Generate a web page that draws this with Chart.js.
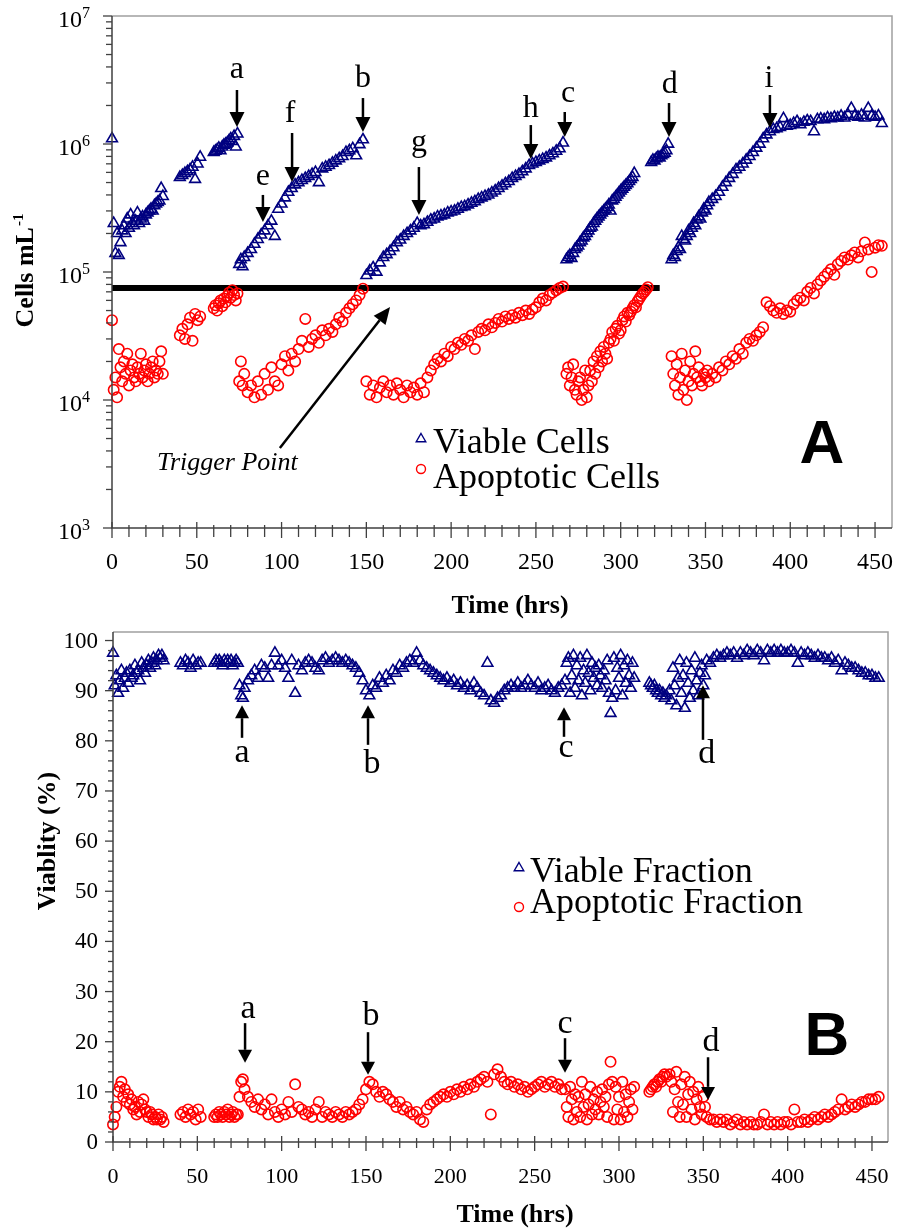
<!DOCTYPE html>
<html>
<head>
<meta charset="utf-8">
<script src="https://cdn.jsdelivr.net/npm/chart.js@4.4.0/dist/chart.umd.min.js"></script>
<style>
  body { margin: 0; background: #fff; }
  #wrapA { position: absolute; left: 0; top: 0; }
  #wrapB { position: absolute; left: 0; top: 620px; }
</style>
</head>
<body>
<div id="wrapA"><canvas id="chartA" width="900" height="620"></canvas></div>
<div id="wrapB"><canvas id="chartB" width="900" height="610"></canvas></div>
<script>
// sampling times (hrs), one entry per reading, grouped by culture run
var hours = [
  // run 1
  0, 1, 2, 3, 4, 5, 6, 7, 8, 9, 10, 11, 12, 13, 14, 15, 16, 17, 18, 19, 20, 21, 22, 23, 24, 25, 26, 27, 28, 29, 30,
  // run 2
  40, 41.5, 43, 44.5, 46, 47.5, 49, 50.5, 52,
  // run 3
  60, 61, 62, 63, 64, 65, 66, 67, 68, 69, 70, 71, 72, 73, 74,
  // run 4
  75, 76, 77, 78, 80, 82, 84, 86, 88, 90, 92, 94, 96, 98, 100, 102, 104, 106, 108, 110,
  112, 114, 116, 118, 120, 122, 124, 126, 128, 130, 132, 134, 136, 138, 140, 142, 144, 146, 148,
  // run 5
  150, 152, 154, 156, 158, 160, 162, 164, 166, 168, 170, 172, 174, 176, 178, 180, 182, 184, 186, 188,
  190, 192, 194, 196, 198, 200, 202, 204, 206, 208, 210, 212, 214, 216, 218, 220, 222, 224, 226, 228,
  230, 232, 234, 236, 238, 240, 242, 244, 246, 248, 250, 252, 254, 256, 258, 260, 262, 264, 266,
  // run 6
  268, 269, 270, 271, 272, 273, 274, 275, 276, 277, 278, 279, 280, 281, 282, 283, 284, 285, 286, 287,
  288, 289, 290, 291, 292, 293, 294, 295, 296, 297, 298, 299, 300, 301, 302, 303, 304, 305, 306, 307,
  308, 309, 310, 311, 312, 313, 314, 315, 316,
  // run 7
  318, 319, 320, 321, 322, 323, 324, 325, 326, 327, 328,
  // run 8
  330, 331, 332, 333, 334, 335, 336, 337, 338, 339, 340, 341, 342, 343, 344, 345, 346, 347, 348, 349,
  350, 351, 352,
  354, 356, 358, 360, 362, 364, 366, 368, 370, 372, 374, 376, 378, 380, 382, 384, 386, 388, 390, 392,
  394, 396, 398, 400, 402, 404, 406, 408, 410, 412, 414, 416, 418, 420, 422, 424, 426, 428, 430, 432,
  434, 436, 438, 440, 442, 444, 446, 448, 450, 452, 454
];

// panel A: viable cells per mL
var viableCells = [
  1.1e6, 2.4e5, 1.4e5, 2.0e5, 1.35e5, 1.7e5, 2.1e5, 2.3e5, 2.0e5, 2.6e5, 2.2e5, 2.8e5, 2.4e5, 2.3e5, 2.5e5, 2.9e5,
  2.4e5, 2.6e5, 2.7e5, 2.5e5, 2.8e5, 2.9e5, 3.0e5, 3.1e5, 3.0e5, 3.3e5, 3.4e5, 3.5e5, 3.6e5, 4.5e5, 3.9e5,
  5.5e5, 5.7e5, 5.9e5, 6.1e5, 6.3e5, 6.6e5, 5.3e5, 7.0e5, 7.9e5,
  8.6e5, 8.8e5, 9.0e5, 9.3e5, 8.9e5, 9.5e5, 9.8e5, 1.0e6, 1.02e6, 1.06e6, 1.1e6, 1.05e6, 1.15e6, 9.5e5, 1.2e6,
  1.15e5, 1.25e5, 1.1e5, 1.3e5, 1.4e5, 1.5e5, 1.65e5, 1.8e5, 1.95e5, 2.1e5, 2.3e5, 2.5e5, 1.9e5, 3.1e5, 3.4e5,
  3.8e5, 4.2e5, 4.5e5, 4.8e5, 5.0e5, 5.2e5, 5.4e5, 5.6e5, 5.8e5, 6.0e5, 5.0e5, 6.4e5, 6.6e5, 6.8e5, 7.1e5,
  7.4e5, 7.7e5, 8.0e5, 8.6e5, 8.9e5, 9.2e5, 8.1e5, 9.9e5, 1.08e6,
  9.4e4, 1.02e5, 1.08e5, 1.0e5, 1.18e5, 1.3e5, 1.37e5, 1.45e5, 1.55e5, 1.7e5, 1.78e5, 1.9e5, 2.0e5, 2.1e5, 2.2e5,
  2.4e5, 2.3e5, 2.35e5, 2.45e5, 2.55e5, 2.6e5, 2.7e5, 2.75e5, 2.8e5, 2.9e5, 2.95e5, 3.0e5, 3.1e5, 3.2e5, 3.25e5,
  3.35e5, 3.45e5, 3.55e5, 3.7e5, 3.8e5, 3.9e5, 4.0e5, 4.15e5, 4.3e5, 4.5e5, 4.7e5, 4.9e5, 5.1e5, 5.4e5, 5.6e5,
  5.8e5, 6.1e5, 6.4e5, 6.8e5, 7.0e5, 7.2e5, 7.4e5, 7.6e5, 7.8e5, 8.1e5, 8.4e5, 8.8e5, 9.2e5, 1.02e6,
  1.25e5, 1.3e5, 1.35e5, 1.28e5, 1.4e5, 1.5e5, 1.55e5, 1.6e5, 1.7e5, 1.75e5, 1.85e5, 1.9e5, 2.0e5, 2.1e5, 2.2e5,
  2.25e5, 2.4e5, 2.5e5, 2.6e5, 2.7e5, 2.8e5, 2.9e5, 3.0e5, 3.1e5, 3.2e5, 3.35e5, 3.0e5, 3.6e5, 3.7e5, 3.85e5,
  4.0e5, 4.15e5, 4.3e5, 4.45e5, 4.6e5, 4.75e5, 4.9e5, 5.1e5, 5.3e5, 5.5e5, 5.9e5,
  null, null, null, null, null, null, null, null,
  7.2e5, 7.5e5, 7.4e5, 7.7e5, 7.9e5, 7.8e5, 8.1e5, 8.3e5, 8.5e5, 8.9e5, 1.0e6,
  1.25e5, 1.35e5, 1.3e5, 1.45e5, 1.55e5, 1.5e5, 1.9e5, 1.8e5, 1.75e5, 1.9e5, 2.1e5, 2.0e5, 2.2e5, 2.4e5, 2.3e5,
  2.55e5, 2.7e5, 2.6e5, 2.9e5, 3.1e5, 3.0e5, 3.3e5, 3.5e5,
  3.7e5, 3.9e5, 4.2e5, 4.6e5, 5.0e5, 5.4e5, 5.8e5, 6.3e5, 6.6e5, 7.0e5,
  7.5e5, 8.0e5, 8.6e5, 9.3e5, 1.0e6, 1.1e6, 1.18e6, 1.25e6, 1.3e6, 1.32e6,
  1.35e6, 1.58e6, 1.38e6, 1.4e6, 1.45e6, 1.5e6, 1.42e6, 1.48e6, 1.52e6, 1.5e6,
  1.25e6, 1.55e6, 1.57e6, 1.55e6, 1.6e6, 1.58e6, 1.62e6, 1.6e6, 1.65e6, 1.6e6,
  1.7e6, 1.9e6, 1.65e6, 1.62e6, 1.68e6, 1.6e6, 1.9e6, 1.65e6, 1.62e6, 1.66e6,
  1.45e6
];

// panel A: apoptotic cells per mL
var apoptoticCells = [
  4.2e4, 1.2e4, 1.5e4, 1.05e4, 2.5e4, 1.8e4, 1.4e4, 2.0e4, 1.6e4, 2.3e4, 1.3e4, 1.7e4, 1.9e4, 1.5e4, 1.4e4, 1.8e4,
  1.6e4, 2.3e4, 1.5e4, 1.7e4, 1.9e4, 1.4e4, 1.6e4, 1.8e4, 2.0e4, 1.5e4, 1.7e4, 1.6e4, 2.0e4, 2.4e4, 1.6e4,
  3.2e4, 3.6e4, 3.0e4, 3.9e4, 4.4e4, 2.9e4, 4.7e4, 4.2e4, 4.5e4,
  5.2e4, 5.5e4, 5.0e4, 5.7e4, 6.0e4, 5.4e4, 6.2e4, 5.8e4, 6.5e4, 6.9e4, 6.3e4, 7.2e4, 6.6e4, 6.0e4, 6.8e4,
  1.4e4, 2.0e4, 1.3e4, 1.6e4, 1.15e4, 1.3e4, 1.05e4, 1.4e4, 1.1e4, 1.6e4, 1.2e4, 1.8e4, 1.4e4, 1.3e4, 1.9e4,
  2.2e4, 1.7e4, 2.3e4, 2.0e4, 2.5e4, 2.9e4, 4.3e4, 2.6e4, 3.0e4, 3.2e4, 2.8e4, 3.5e4, 3.2e4, 3.6e4, 3.4e4,
  3.9e4, 4.4e4, 4.1e4, 4.8e4, 5.2e4, 5.6e4, 6.0e4, 6.6e4, 7.4e4,
  1.4e4, 1.1e4, 1.3e4, 1.05e4, 1.25e4, 1.4e4, 1.15e4, 1.3e4, 1.1e4, 1.35e4, 1.2e4, 1.05e4, 1.3e4, 1.15e4, 1.25e4,
  1.1e4, 1.35e4, 1.15e4, 1.5e4, 1.7e4, 1.9e4, 2.1e4, 2.0e4, 2.3e4, 2.2e4, 2.6e4, 2.5e4, 2.8e4, 2.7e4, 3.0e4,
  2.9e4, 3.2e4, 2.5e4, 3.4e4, 3.6e4, 3.5e4, 3.9e4, 3.7e4, 4.0e4, 4.3e4, 4.1e4, 4.5e4, 4.3e4, 4.6e4, 4.4e4,
  4.8e4, 4.6e4, 5.0e4, 4.7e4, 5.1e4, 5.3e4, 5.8e4, 6.2e4, 6.0e4, 6.6e4, 6.9e4, 7.2e4, 7.5e4, 7.7e4,
  1.6e4, 1.8e4, 1.3e4, 1.5e4, 1.9e4, 1.2e4, 1.1e4, 1.4e4, 1.5e4, 1.0e4, 1.2e4, 1.7e4, 1.05e4, 1.3e4, 1.7e4,
  1.4e4, 2.0e4, 1.6e4, 2.2e4, 1.8e4, 2.4e4, 2.0e4, 2.6e4, 2.3e4, 2.1e4, 2.8e4, 3.0e4, 3.4e4, 2.9e4, 3.6e4,
  3.8e4, 3.3e4, 3.5e4, 4.2e4, 4.5e4, 4.1e4, 4.8e4, 4.6e4, 4.9e4, 5.2e4, 5.5e4, 5.3e4, 5.9e4, 6.2e4, 6.5e4,
  6.8e4, 7.0e4, 7.3e4, 7.6e4,
  null, null, null, null, null, null, null, null, null, null, null,
  2.2e4, 1.6e4, 1.3e4, 1.9e4, 1.1e4, 1.5e4, 2.3e4, 1.2e4, 1.7e4, 1.0e4, 1.4e4, 2.0e4, 1.3e4, 1.6e4, 2.4e4,
  1.5e4, 1.8e4, 1.4e4, 1.3e4, 1.6e4, 1.5e4, 1.7e4, 1.4e4,
  1.6e4, 1.5e4, 1.8e4, 1.7e4, 2.0e4, 1.9e4, 2.2e4, 2.1e4, 2.5e4, 2.3e4,
  2.8e4, 3.0e4, 2.9e4, 3.2e4, 3.4e4, 3.7e4, 5.8e4, 5.4e4, 5.0e4, 4.8e4,
  5.2e4, 4.7e4, 5.0e4, 4.9e4, 5.6e4, 6.0e4, 6.3e4, 6.0e4, 7.0e4, 7.5e4,
  6.8e4, 8.0e4, 8.6e4, 9.2e4, 9.8e4, 1.05e5, 9.5e4, 1.15e5, 1.22e5, 1.3e5,
  1.25e5, 1.35e5, 1.42e5, 1.3e5, 1.45e5, 1.7e5, 1.5e5, 1.0e5, 1.55e5, 1.62e5,
  1.6e5
];

// panel B: viable fraction (%)
var viableFraction = [
  97.5, 91, 93, 89.5, 92, 94, 90.5, 92.5, 93.5, 91.5, 94, 92.5, 93, 95, 93.5, 94,
  92, 95.5, 94.5, 93.5, 95, 96, 94.5, 95.5, 96.5, 95, 96, 97, 96.5, 97, 96,
  95.5, 95, 96, 95.5, 94.5, 96, 95, 95.5, 95.5,
  95.5, 96, 95.5, 96, 95.5, 95, 96, 95.5, 96, 95.5, 96, 95, 95.5, 96, 95.5,
  91, 89, 88.5, 90.5, 92, 93, 94, 92.5, 95, 94.5, 92.5, 95, 97.5, 95, 96,
  94.5, 92.5, 96, 89.5, 95, 94, 95.5, 96, 95.5, 94.5, 94, 96, 96.5, 95.5, 96,
  96.5, 96, 95.5, 96, 95.5, 95, 94.5, 93.5, 92,
  90, 89, 91, 90.5, 92.5, 91.5, 93, 92, 94, 93.5, 95, 94.5, 95.5, 96, 95.5,
  97.5, 96, 95, 94.5, 94, 93.5, 93, 92.5, 92, 92.5, 91.5, 92, 91, 91.5, 90.5,
  91, 90, 91.5, 90.5, 89.5, 89, 95.5, 88, 87.5, 88.5, 89, 90, 90.5, 91, 90.5,
  91.5, 90.5, 91, 92, 91, 90.5, 91.5, 90, 90.5, 91, 90, 89.5, 90.5, 91,
  92, 95.5, 96.5, 89.5, 93, 97, 90.5, 95, 92, 96.5, 89, 94, 91.5, 97, 93.5,
  90, 95.5, 92.5, 94.5, 91, 95, 93, 90.5, 94, 92, 96, 89.5, 85.5, 88.5, 96.5,
  90, 94.5, 92.5, 97, 89, 95, 91.5, 96, 93, 90.5, 95.5, 92.5,
  null, null, null, null, null, null, null,
  91.5, 91, 90.5, 91, 90, 89.5, 90, 89, 89.5, 88.5, 89,
  90, 88, 94.5, 91, 87, 92.5, 96, 89.5, 93, 86.5, 95.5, 91.5, 88.5, 94, 90,
  96.5, 92, 89, 93.5, 95, 91, 93, 96,
  95.5, 96.5, 97, 96.5, 97, 97.5, 97, 97.5, 96.5, 97.5,
  97, 98, 97.5, 97, 98, 97.5, 96, 98, 97.5, 98,
  97.5, 98, 97.5, 97.5, 98, 97.5, 95.5, 97.5, 97, 97.5,
  97, 96.5, 97, 96.5, 96.5, 96, 96.5, 95.5, 96, 94,
  95.5, 95, 94.5, 94.5, 94, 93.5, 93.5, 93, 93, 92.5,
  92.5
];

// panel B: apoptotic fraction (%)
var apoptoticFraction = [
  3.5, 5, 7, 10, 11, 12, 9, 10.5, 8, 9.5, 7.5, 8.5, 6.5, 7, 5.5, 8,
  6, 7.5, 8.5, 6.5, 6, 5, 6, 5.5, 4.5, 5, 4.5, 5.5, 4.5, 5, 4,
  5.5, 6, 5, 6.5, 5.5, 6, 4.5, 6.5, 5,
  5, 5.5, 5, 6, 5.5, 5, 6, 5.5, 6.5, 5, 5.5, 6, 5, 5.5, 5.5,
  9, 12, 12.5, 10.5, 9, 8, 7, 8.5, 6.5, 7.5, 5.5, 8.5, 6, 5, 6.5,
  5.5, 8, 6, 11.5, 7, 6.5, 5.5, 6, 5, 6.5, 8, 5, 6, 5.5, 5,
  6, 5.5, 5, 6, 5.5, 6, 6.5, 7.5, 8.5,
  10.5, 12, 11.5, 10, 9, 10, 9.5, 8.5, 8, 7, 8, 6.5, 7, 6, 5.5,
  6, 4.5, 4, 6.5, 7.5, 8, 8.5, 9, 9.5, 9, 10, 9.5, 10.5, 10, 11,
  10.5, 11.5, 11, 12, 12.5, 13, 12, 5.5, 13.5, 14.5, 13, 12, 11.5, 12, 11,
  11.5, 10.5, 11, 10, 10.5, 11, 11.5, 12, 11, 11.5, 12, 11, 11.5, 10.5,
  10.5, 7, 5, 11, 8.5, 4.5, 9.5, 6, 9, 5, 12, 7, 9.5, 4.5, 7.5,
  11, 5.5, 8.5, 6.5, 10, 5.5, 8, 10.5, 7, 9, 5, 11.5, 16, 12, 4.5,
  11, 6.5, 9, 4.5, 12, 6, 9.5, 5, 8, 10.5, 6.5, 11,
  null, null, null, null, null, null, null,
  10, 10.5, 11, 11.5, 11, 12, 12.5, 12, 13, 13.5, 13,
  13.5, 12, 6, 10.5, 14, 8, 5, 11.5, 7.5, 13, 5, 9.5, 12, 6.5, 10,
  4.5, 8.5, 11, 7, 5.5, 9, 7, 5,
  4.5, 4.5, 4, 4.5, 4, 4.5, 3.5, 4, 4.5, 3.5,
  4, 3.5, 4, 3.5, 3.5, 4, 5.5, 3.5, 4, 3.5,
  4, 3.5, 4, 4, 3.5, 6.5, 4, 4, 4.5, 4,
  4.5, 5, 4.5, 5, 5.5, 5, 5.5, 6, 6.5, 8.5,
  6.5, 7, 7.5, 7, 7.5, 8, 8, 8.5, 8.5, 8.5,
  9
];

// axis ticks
var hourTicks = [0, 50, 100, 150, 200, 250, 300, 350, 400, 450];
var cellTicks = [1e3, 1e4, 1e5, 1e6, 1e7];
var cellTickExp = ['3', '4', '5', '6', '7'];
var pctTicks = [0, 10, 20, 30, 40, 50, 60, 70, 80, 90, 100];

// trigger level (cells/mL) and the hour where the bar stops
var triggerLevel = 7.5e4;
var triggerEnd = 323;

// panel A arrows: letter, arrow hour, log10 label baseline, log10 tail, log10 tip, label hour
var arrowsA = [
  ['a', 73.7, 6.516, 6.422, 6.133, 73.7],
  ['b', 148, 6.445, 6.359, 6.094, 148],
  ['e', 89, 5.680, 5.602, 5.391, 89],
  ['f', 106.2, 6.172, 6.086, 5.703, 105],
  ['g', 181, 5.945, 5.820, 5.445, 181],
  ['h', 247, 6.211, 6.148, 5.883, 247],
  ['c', 267, 6.328, 6.250, 6.055, 269],
  ['d', 328.5, 6.398, 6.320, 6.055, 329],
  ['i', 388, 6.445, 6.383, 6.125, 387.5]
];

// panel B arrows: letter, arrow hour, label baseline, tail, tip (percent), label hour
var arrowsB = [
  ['a', 76.5, 75.8, 80.6, 87.1, 76.5],
  ['b', 151.2, 73.6, 79.2, 87.1, 153.5],
  ['c', 267.4, 76.8, 80.8, 86.7, 268.6],
  ['d', 349.8, 75.6, 80.2, 91.1, 352],
  ['a', 78.3, 24.7, 23.7, 15.8, 80],
  ['b', 151.2, 23.3, 21.9, 13.4, 153],
  ['c', 268, 21.7, 20.7, 13.8, 268],
  ['d', 352.8, 18.1, 16.9, 8.4, 354.5]
];

var serif = '"Liberation Serif", "Times New Roman", serif';
var sans = '"Liberation Sans", Arial, sans-serif';
var axisColor = '#404040';
var navy = '#000080';
var red = '#ff0000';

function toPoints(vals) {
  var pts = [];
  for (var i = 0; i < hours.length; i++) {
    if (vals[i] !== null) pts.push({ x: hours[i], y: vals[i] });
  }
  return pts;
}

function line(ctx, x1, y1, x2, y2) {
  ctx.beginPath();
  ctx.moveTo(x1, y1);
  ctx.lineTo(x2, y2);
  ctx.stroke();
}

function drawArrow(ctx, x1, y1, x2, y2, lw, headLen, headHalf) {
  var ang = Math.atan2(y2 - y1, x2 - x1);
  var bx = x2 - headLen * Math.cos(ang), by = y2 - headLen * Math.sin(ang);
  ctx.save();
  ctx.strokeStyle = '#000';
  ctx.fillStyle = '#000';
  ctx.lineWidth = lw;
  line(ctx, x1, y1, bx, by);
  ctx.beginPath();
  ctx.moveTo(x2, y2);
  ctx.lineTo(bx + headHalf * Math.sin(ang), by - headHalf * Math.cos(ang));
  ctx.lineTo(bx - headHalf * Math.sin(ang), by + headHalf * Math.cos(ang));
  ctx.closePath();
  ctx.fill();
  ctx.restore();
}

function triangle(ctx, x, y, r) {
  ctx.beginPath();
  ctx.moveTo(x, y - r);
  ctx.lineTo(x + r * 0.866, y + r * 0.5);
  ctx.lineTo(x - r * 0.866, y + r * 0.5);
  ctx.closePath();
  ctx.stroke();
}

function drawFrame(ctx, a) {
  ctx.save();
  ctx.lineWidth = 1.5;
  ctx.strokeStyle = '#a0a0a0';
  ctx.beginPath();
  ctx.moveTo(a.left, a.top);
  ctx.lineTo(a.right, a.top);
  ctx.lineTo(a.right, a.bottom);
  ctx.stroke();
  ctx.strokeStyle = axisColor;
  ctx.beginPath();
  ctx.moveTo(a.left, a.top);
  ctx.lineTo(a.left, a.bottom);
  ctx.lineTo(a.right, a.bottom);
  ctx.stroke();
  ctx.restore();
}

// hour axis: crossing tick marks every 10 h, labels at the 50 h ticks
function drawHourAxis(ctx, xs, base, majUp, majDown, minUp, minDown, font, labelY) {
  ctx.save();
  ctx.strokeStyle = axisColor;
  ctx.lineWidth = 1.3;
  for (var v = 0; v <= hourTicks[hourTicks.length - 1]; v += 10) {
    var px = xs.getPixelForValue(v);
    if (hourTicks.indexOf(v) >= 0) line(ctx, px, base - majUp, px, base + majDown);
    else line(ctx, px, base - minUp, px, base + minDown);
  }
  ctx.fillStyle = '#000';
  ctx.font = font;
  ctx.textAlign = 'center';
  ctx.textBaseline = 'alphabetic';
  hourTicks.forEach(function (v) {
    ctx.fillText(String(v), xs.getPixelForValue(v), labelY);
  });
  ctx.restore();
}

var panelA = {
  id: 'panelA',
  beforeDatasetsDraw: function (chart) {
    var ctx = chart.ctx, xs = chart.scales.x, ys = chart.scales.y;
    var y = ys.getPixelForValue(triggerLevel);
    ctx.save();
    ctx.fillStyle = '#000';
    ctx.fillRect(xs.getPixelForValue(0), y - 3, xs.getPixelForValue(triggerEnd) - xs.getPixelForValue(0), 6);
    ctx.restore();
  },
  afterDatasetsDraw: function (chart) {
    var ctx = chart.ctx, a = chart.chartArea, xs = chart.scales.x, ys = chart.scales.y;
    drawFrame(ctx, a);
    drawHourAxis(ctx, xs, a.bottom, 6, 10, 3, 9, '24px ' + serif, 569);

    // log axis ticks and labels
    ctx.save();
    ctx.strokeStyle = axisColor;
    ctx.lineWidth = 1.3;
    ctx.fillStyle = '#000';
    for (var d = 0; d < cellTicks.length; d++) {
      var py = ys.getPixelForValue(cellTicks[d]);
      line(ctx, a.left - 9, py, a.left, py);
      if (d < cellTicks.length - 1) {
        for (var m = 2; m <= 9; m++) {
          var pm = ys.getPixelForValue(cellTicks[d] * m);
          line(ctx, a.left - 6, pm, a.left, pm);
        }
      }
      ctx.font = '24px ' + serif;
      ctx.textAlign = 'right';
      ctx.fillText('10', 82, py + 11);
      ctx.font = '16px ' + serif;
      ctx.textAlign = 'left';
      ctx.fillText(cellTickExp[d], 82, py + 2);
    }
    ctx.restore();

    // axis titles
    ctx.save();
    ctx.fillStyle = '#000';
    ctx.font = 'bold 26px ' + serif;
    ctx.textAlign = 'center';
    ctx.fillText('Time (hrs)', 510, 613);
    ctx.translate(33, 271);
    ctx.rotate(-Math.PI / 2);
    var w1 = ctx.measureText('Cells mL').width;
    ctx.font = 'bold 15px ' + serif;
    var w2 = ctx.measureText('-1').width;
    ctx.textAlign = 'left';
    ctx.font = 'bold 26px ' + serif;
    ctx.fillText('Cells mL', -(w1 + w2) / 2, 0);
    ctx.font = 'bold 15px ' + serif;
    ctx.fillText('-1', -(w1 + w2) / 2 + w1 + 1, -10);
    ctx.restore();

    // event arrows
    ctx.save();
    ctx.fillStyle = '#000';
    ctx.font = '32px ' + serif;
    ctx.textAlign = 'center';
    arrowsA.forEach(function (r) {
      var x = xs.getPixelForValue(r[1]);
      drawArrow(ctx, x, ys.getPixelForValue(Math.pow(10, r[3])), x, ys.getPixelForValue(Math.pow(10, r[4])), 2.5, 15, 7.5);
      ctx.fillText(r[0], xs.getPixelForValue(r[5]), ys.getPixelForValue(Math.pow(10, r[2])));
    });

    // trigger point arrow and note
    drawArrow(ctx, xs.getPixelForValue(99), ys.getPixelForValue(Math.pow(10, 3.625)),
      xs.getPixelForValue(164), ys.getPixelForValue(Math.pow(10, 4.727)), 2.5, 17, 7.5);
    ctx.font = 'italic 26px ' + serif;
    ctx.textAlign = 'left';
    ctx.fillText('Trigger Point', xs.getPixelForValue(26.5), ys.getPixelForValue(Math.pow(10, 3.453)));

    // legend
    ctx.lineWidth = 1.4;
    ctx.strokeStyle = navy;
    triangle(ctx, 421, 439, 5.5);
    ctx.strokeStyle = red;
    ctx.beginPath();
    ctx.arc(421, 469, 4.5, 0, Math.PI * 2);
    ctx.stroke();
    ctx.fillStyle = '#000';
    ctx.font = '36px ' + serif;
    ctx.fillText('Viable Cells', 433, 453);
    ctx.fillText('Apoptotic Cells', 433, 488);

    ctx.font = 'bold 62px ' + sans;
    ctx.textAlign = 'center';
    ctx.fillText('A', 822, 463);
    ctx.restore();
  }
};

var panelB = {
  id: 'panelB',
  afterDatasetsDraw: function (chart) {
    var ctx = chart.ctx, a = chart.chartArea, xs = chart.scales.x, ys = chart.scales.y;
    drawFrame(ctx, a);
    drawHourAxis(ctx, xs, a.bottom, 6, 9, 4, 6, '22px ' + serif, 563);

    ctx.save();
    ctx.strokeStyle = axisColor;
    ctx.lineWidth = 1.3;
    for (var v = 0; v <= 100; v += 2) {
      var py = ys.getPixelForValue(v);
      if (pctTicks.indexOf(v) >= 0) line(ctx, a.left - 8, py, a.left, py);
      else line(ctx, a.left - 5, py, a.left, py);
    }
    ctx.fillStyle = '#000';
    ctx.font = '23px ' + serif;
    ctx.textAlign = 'right';
    ctx.textBaseline = 'middle';
    pctTicks.forEach(function (t) {
      ctx.fillText(String(t), 98, ys.getPixelForValue(t) + 1);
    });
    ctx.restore();

    ctx.save();
    ctx.fillStyle = '#000';
    ctx.font = 'bold 26px ' + serif;
    ctx.textAlign = 'center';
    ctx.textBaseline = 'middle';
    ctx.fillText('Time (hrs)', 515, 595);
    ctx.translate(48, 221);
    ctx.rotate(-Math.PI / 2);
    ctx.fillText('Viablity (%)', 0, 0);
    ctx.restore();

    ctx.save();
    ctx.fillStyle = '#000';
    ctx.font = '34px ' + serif;
    ctx.textAlign = 'center';
    arrowsB.forEach(function (r) {
      var x = xs.getPixelForValue(r[1]);
      drawArrow(ctx, x, ys.getPixelForValue(r[3]), x, ys.getPixelForValue(r[4]), 2.5, 13, 7);
      ctx.fillText(r[0], xs.getPixelForValue(r[5]), ys.getPixelForValue(r[2]));
    });

    ctx.lineWidth = 1.4;
    ctx.strokeStyle = navy;
    triangle(ctx, 519, 248, 5.5);
    ctx.strokeStyle = red;
    ctx.beginPath();
    ctx.arc(519, 287, 4.5, 0, Math.PI * 2);
    ctx.stroke();
    ctx.font = '36px ' + serif;
    ctx.textAlign = 'left';
    ctx.fillText('Viable Fraction', 530, 262);
    ctx.fillText('Apoptotic Fraction', 530, 293);

    ctx.font = 'bold 62px ' + sans;
    ctx.textAlign = 'center';
    ctx.fillText('B', 827, 435);
    ctx.restore();
  }
};

function markerSet(label, pts, style, color, r) {
  return {
    label: label,
    data: pts,
    showLine: false,
    clip: false,
    pointStyle: style,
    pointRadius: r,
    pointBorderWidth: 1.6,
    pointBorderColor: color,
    pointBackgroundColor: 'rgba(255,255,255,0)',
    borderColor: color,
    backgroundColor: 'rgba(255,255,255,0)'
  };
}

var hidden = { display: false };

new Chart(document.getElementById('chartA'), {
  type: 'scatter',
  data: {
    datasets: [
      markerSet('Viable Cells', toPoints(viableCells), 'triangle', navy, 6.2),
      markerSet('Apoptotic Cells', toPoints(apoptoticCells), 'circle', red, 5.2)
    ]
  },
  options: {
    responsive: false,
    animation: false,
    events: [],
    layout: { padding: { top: 16, right: 8, left: 0, bottom: 0 } },
    plugins: { legend: hidden, tooltip: { enabled: false } },
    scales: {
      x: {
        type: 'linear', min: 0, max: 460,
        ticks: hidden, grid: hidden, border: hidden,
        afterFit: function (s) { s.height = 92; }
      },
      y: {
        type: 'logarithmic', min: 1e3, max: 1e7,
        ticks: hidden, grid: hidden, border: hidden,
        afterFit: function (s) { s.width = 112; }
      }
    }
  },
  plugins: [panelA]
});

new Chart(document.getElementById('chartB'), {
  type: 'scatter',
  data: {
    datasets: [
      markerSet('Viable Fraction', toPoints(viableFraction), 'triangle', navy, 6.2),
      markerSet('Apoptotic Fraction', toPoints(apoptoticFraction), 'circle', red, 5.2)
    ]
  },
  options: {
    responsive: false,
    animation: false,
    events: [],
    layout: { padding: { top: 12, right: 12, left: 0, bottom: 0 } },
    plugins: { legend: hidden, tooltip: { enabled: false } },
    scales: {
      x: {
        type: 'linear', min: 0, max: 459.5,
        ticks: hidden, grid: hidden, border: hidden,
        afterFit: function (s) { s.height = 88; }
      },
      y: {
        type: 'linear', min: 0, max: 101.7,
        ticks: hidden, grid: hidden, border: hidden,
        afterFit: function (s) { s.width = 113; }
      }
    }
  },
  plugins: [panelB]
});
</script>
</body>
</html>
